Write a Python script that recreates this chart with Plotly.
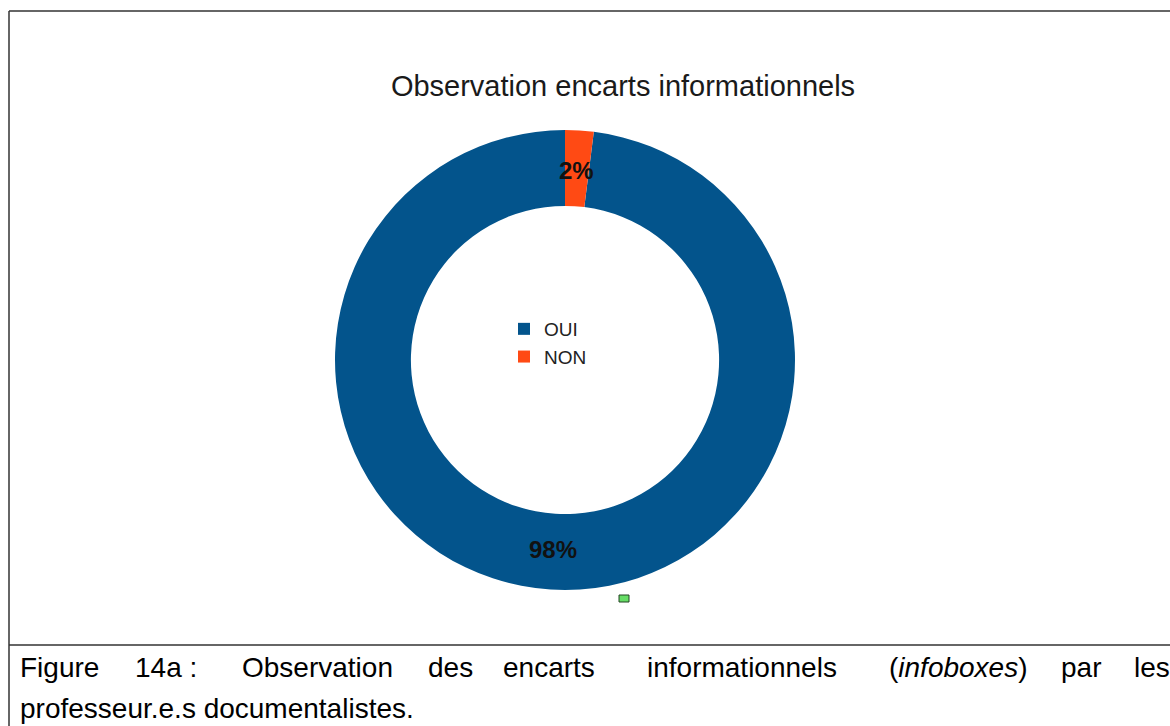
import math
import plotly.graph_objects as go

labels = ["OUI", "NON"]
values = [98, 2]
colors = ["#03548c", "#ff4a14"]

title_text = "Observation encarts informationnels"
caption_words = ["Figure", "14a\u00a0:", "Observation", "des", "encarts",
                 "informationnels", "(<i>infoboxes</i>)", "par", "les"]
caption_x = [18, 133, 240, 426, 501, 645, 887, 1059, 1132]
caption_line2 = "professeur.e.s documentalistes."

W, H = 1170, 726
cx, cy, r_out = 565, 360, 230  # centre et rayon du donut, en pixels
total = sum(values)

fig = go.Figure(go.Pie(
    labels=labels,
    values=values,
    hole=0.67,
    sort=False,
    direction="clockwise",
    rotation=360 * values[1] / total,  # NON commence à midi
    marker=dict(colors=colors, line=dict(width=0)),
    textinfo="none",
    domain=dict(x=[(cx - r_out) / W, (cx + r_out) / W], y=[(H - cy - r_out) / H, (H - cy + r_out) / H]),
))

# étiquettes de pourcentage au milieu de l'anneau
r_mid = 190
start = 0
for lab, v in reversed(list(zip(labels, values))):
    a = math.radians((start + v / 2) / total * 360)
    start += v
    fig.add_annotation(text="<b>%d%%</b>" % round(v / total * 100),
                       x=(cx + r_mid * math.sin(a)) / W, y=1 - (cy - r_mid * math.cos(a)) / H,
                       xref="paper", yref="paper", xanchor="center", yanchor="middle", showarrow=False,
                       font=dict(family="Liberation Sans", size=24, color="#111"))

fig.update_layout(
    width=W, height=H,
    margin=dict(l=0, r=0, t=0, b=0),
    paper_bgcolor="white",
    font=dict(family="Liberation Sans", color="black"),
    title=dict(text=title_text, x=623 / W, xanchor="center", y=1 - 86 / H, yanchor="middle",
               font=dict(size=29, family="Liberation Sans", color="#1a1a1a")),
    legend=dict(x=504 / W, y=1 - 310 / H, xanchor="left", yanchor="top",
                bgcolor="rgba(0,0,0,0)", font=dict(size=19, color="#222")),
)

# cadre de la page
line = dict(color="#333", width=1.5)
fig.add_shape(type="line", xref="paper", yref="paper", x0=9 / W, x1=1, y0=1 - 11 / H, y1=1 - 11 / H, line=line)
fig.add_shape(type="line", xref="paper", yref="paper", x0=9 / W, x1=9 / W, y0=0, y1=1 - 11 / H, line=line)
fig.add_shape(type="line", xref="paper", yref="paper", x0=9 / W, x1=1, y0=1 - 645 / H, y1=1 - 645 / H, line=line)
# poignée de sélection
fig.add_shape(type="rect", xref="paper", yref="paper", x0=619 / W, x1=629 / W, y0=1 - 602 / H, y1=1 - 595 / H,
              fillcolor="#66dd66", line=dict(color="#224422", width=1))

for w, x in zip(caption_words, caption_x):
    fig.add_annotation(text=w, x=x / W, y=1 - 667 / H, xref="paper", yref="paper",
                       xanchor="left", yanchor="middle", showarrow=False,
                       font=dict(size=28, family="Liberation Sans", color="black"))
fig.add_annotation(text=caption_line2, x=18 / W, y=1 - 708 / H, xref="paper", yref="paper",
                   xanchor="left", yanchor="middle", showarrow=False,
                   font=dict(size=28, family="Liberation Sans", color="black"))

fig.write_html("out.html", config={"displayModeBar": False},
               post_script="document.body.style.margin='0';")
